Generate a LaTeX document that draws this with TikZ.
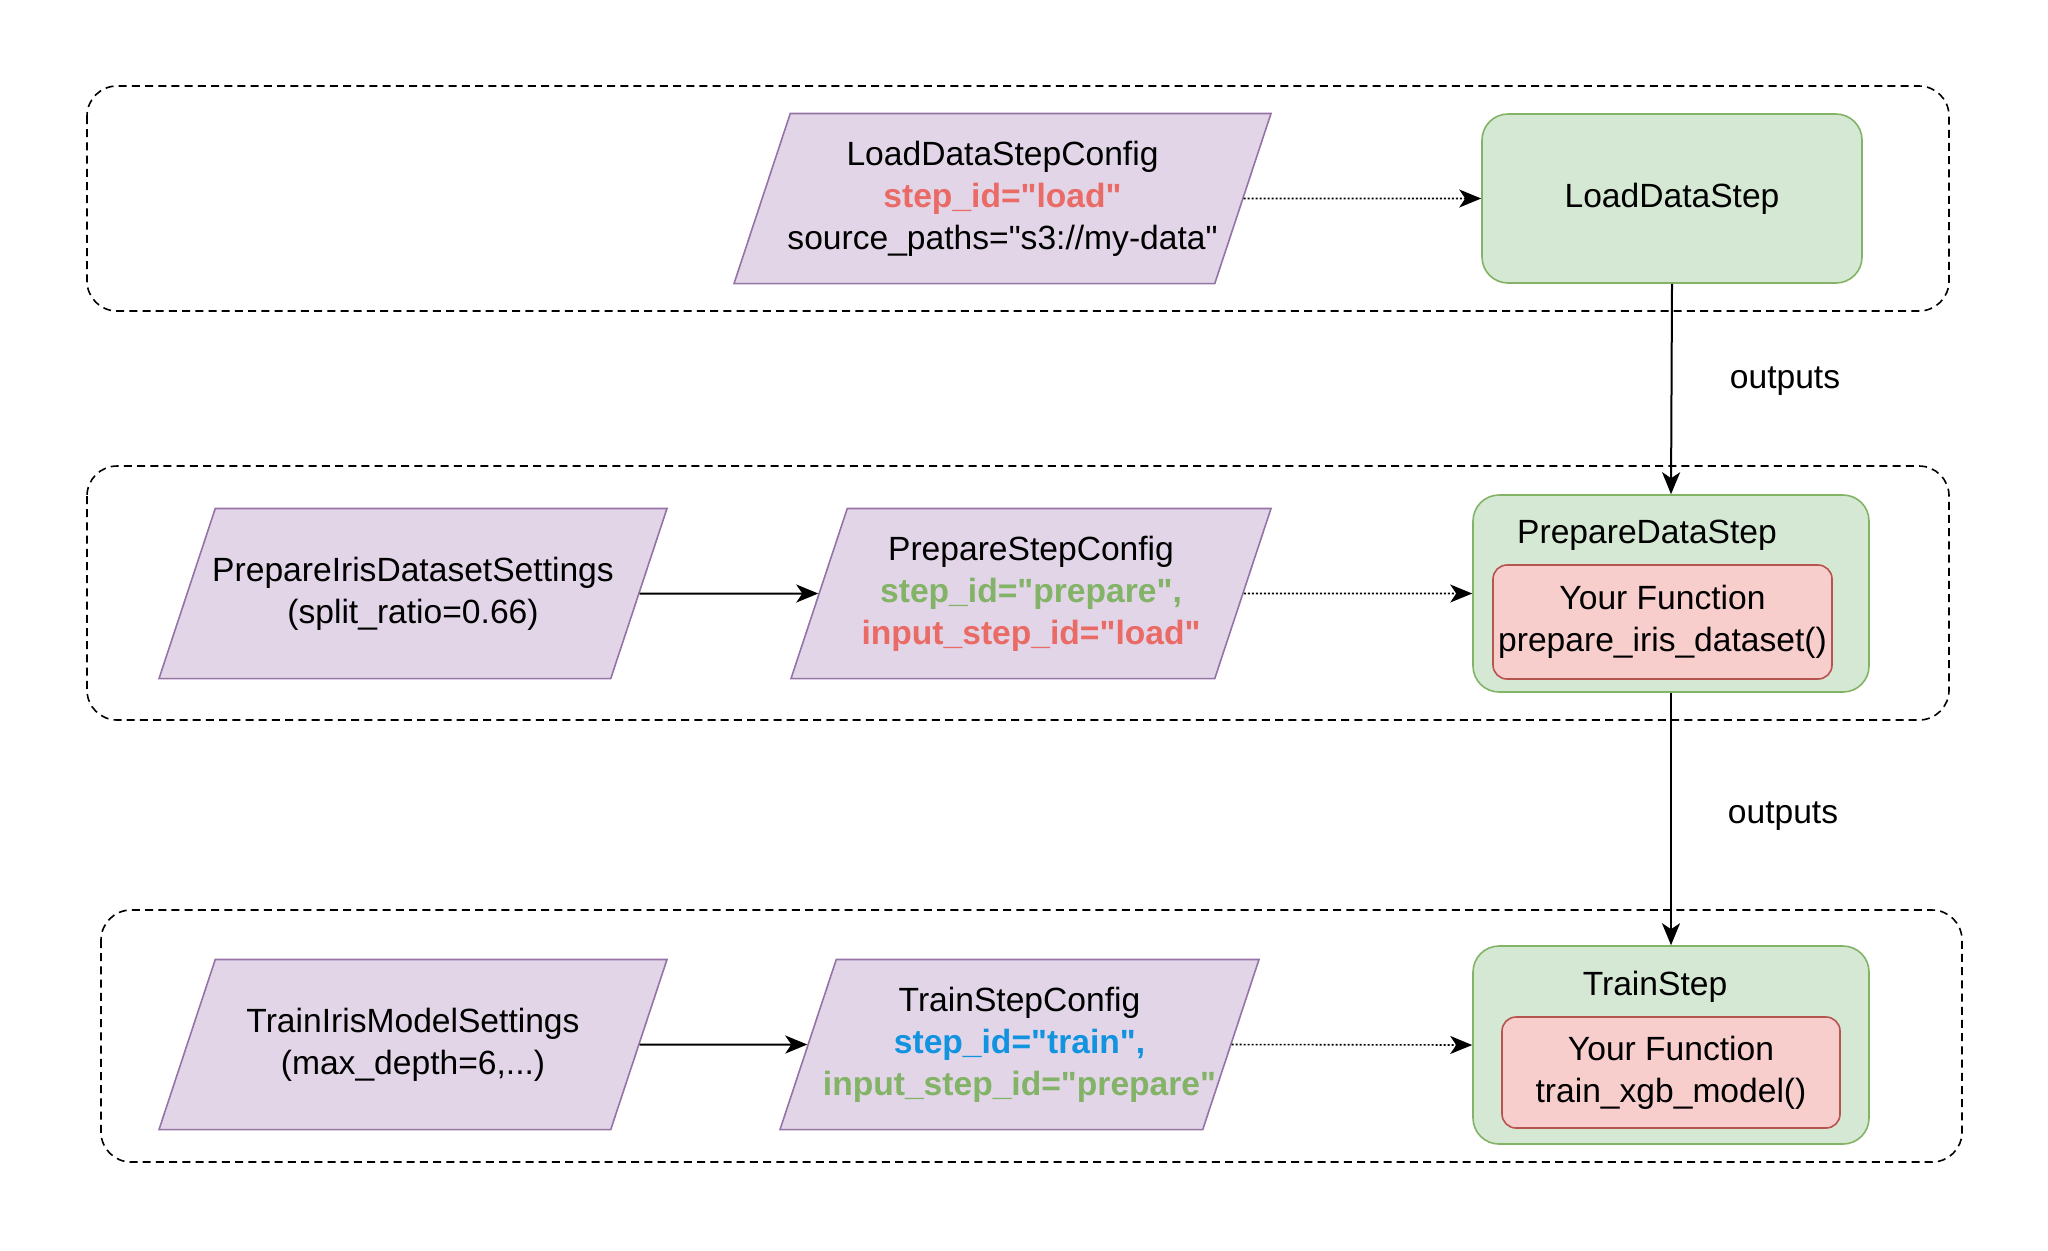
\documentclass[tikz,border=0pt]{standalone}
\usepackage{fontspec}
\setmainfont{Liberation Sans}[Ligatures=TeXOff]
\usepackage{xcolor}
\usepackage{tikz}
\usetikzlibrary{arrows.meta,shapes.geometric}
\definecolor{cfgfill}{HTML}{E1D5E7}
\definecolor{cfgline}{HTML}{9673A6}
\definecolor{stepfill}{HTML}{D5E8D4}
\definecolor{stepline}{HTML}{82B366}
\definecolor{fnfill}{HTML}{F8CECC}
\definecolor{fnline}{HTML}{B85450}
\definecolor{idred}{HTML}{EA6B66}
\definecolor{idgreen}{HTML}{82B366}
\definecolor{idblue}{HTML}{1193E0}
\newcommand{\dfont}{\fontsize{16.8pt}{21pt}\selectfont}
\tikzset{
  cfg/.style    ={trapezium, trapezium left angle=71.7, trapezium right angle=108.3,
                  trapezium stretches body, draw=cfgline, fill=cfgfill, line width=0.8pt,
                  align=center, font=\dfont, inner xsep=-10pt, minimum height=84.5pt},
  stepbox/.style={draw=stepline, fill=stepfill, rounded corners=13pt, line width=0.8pt,
                  font=\dfont, minimum width=190pt, minimum height=84.5pt},
  fnbox/.style  ={draw=fnline, fill=fnfill, rounded corners=7pt, line width=0.8pt,
                  align=center, font=\dfont, inner sep=1pt},
  frame/.style  ={draw=black, dash pattern=on 4pt off 2.6pt, line width=0.8pt, rounded corners=15pt},
  ar/.style     ={-{Stealth[length=11pt,width=9pt,inset=3pt]}, draw=black, line width=1pt},
  dar/.style    ={-{Stealth[length=11pt,width=9pt,inset=3pt]}, draw=black, line width=0.8pt,
                  dash pattern=on 1pt off 1pt},
  lbl/.style    ={font=\dfont},
}

\begin{document}
\begin{tikzpicture}[x=0.5pt,y=-0.5pt]
\useasboundingbox (0,0) rectangle (2048,1250);
% dashed groups
\draw[frame] (87,86) rectangle (1949,311);
\draw[frame] (87,466) rectangle (1949,720);
\draw[frame] (101,910) rectangle (1962,1162);

% load row
\node[cfg, inner ysep=13.7pt, minimum width=268.5pt] (cfgload) at (1002.5,198.5)
  {LoadDataStepConfig\\ \textbf{\color{idred}step\_id="load"}\\ source\_paths="s3://my-data"};
\node[stepbox] (loadstep) at (1672,198.5) {LoadDataStep};

% prepare row
\node[cfg, inner ysep=24.2pt, minimum width=254pt] (setprep) at (413,593.5)
  {PrepareIrisDatasetSettings\\ (split\_ratio=0.66)};
\node[cfg, inner ysep=13.7pt, minimum width=240pt] (cfgprep) at (1031,593.5)
  {PrepareStepConfig\\ \textbf{\color{idgreen}step\_id="prepare",}\\ \textbf{\color{idred}input\_step\_id="load"}};
\node[stepbox, minimum width=198pt, minimum height=98.5pt] (prepstep) at (1671,593.5) {};
\node[lbl] (preptitle) at (1647,535) {PrepareDataStep};
\node[fnbox, minimum width=169.5pt, minimum height=57pt] (prepfn) at (1662.5,622)
  {Your Function\\ prepare\_iris\_dataset()};

% train row
\node[cfg, inner ysep=24.2pt, minimum width=254pt] (settrain) at (413,1044.5)
  {TrainIrisModelSettings\\ (max\_depth=6,...)};
\node[cfg, inner ysep=13.7pt, minimum width=239.5pt] (cfgtrain) at (1019.5,1044.5)
  {TrainStepConfig\\ \textbf{\color{idblue}step\_id="train",}\\ \textbf{\color{idgreen}input\_step\_id="prepare"}};
\node[stepbox, minimum width=198pt, minimum height=99pt] (trainstep) at (1671,1045) {};
\node[lbl] (traintitle) at (1655,987) {TrainStep};
\node[fnbox, minimum width=169pt, minimum height=55.5pt] (trainfn) at (1671,1072.5)
  {Your Function\\ train\_xgb\_model()};

% connectors
\draw[dar] (cfgload.east) -- (loadstep.west);
\draw[ar] (loadstep.south) -- (prepstep.north);
\node[lbl] (out1) at (1785,381) {outputs};
\draw[ar] (setprep.east) -- (cfgprep.west);
\draw[dar] (cfgprep.east) -- (prepstep.west);
\draw[ar] (prepstep.south) -- (trainstep.north);
\node[lbl] (out2) at (1783,816) {outputs};
\draw[ar] (settrain.east) -- (cfgtrain.west);
\draw[dar] (cfgtrain.east) -- (trainstep.west);
\end{tikzpicture}
\end{document}
